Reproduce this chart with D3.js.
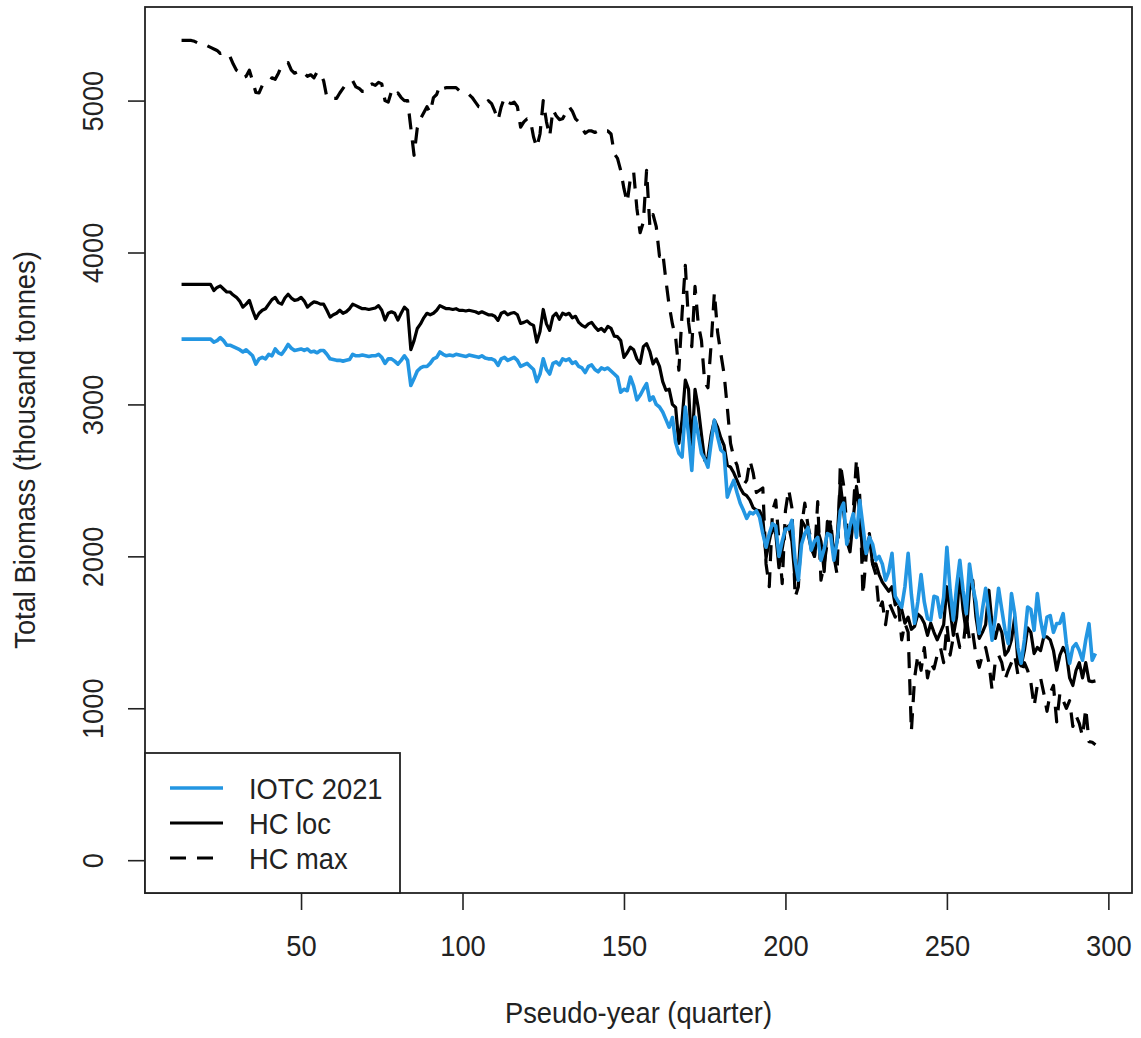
<!DOCTYPE html>
<html>
<head>
<meta charset="utf-8">
<script src="https://cdn.jsdelivr.net/npm/d3@7"></script>
<style>
  body { margin: 0; background: #fff; }
  text { font-family: "Liberation Sans", Arial, sans-serif; fill: #222; }
</style>
</head>
<body>
<div id="chart"></div>
<script>
// quarters 13..296
var startQuarter = 13;

var iotc2021 = [
  3430, 3430, 3430, 3430, 3430, 3430, 3430, 3430, 3430, 3430,
  3410, 3420, 3440, 3420, 3390, 3390, 3380, 3370, 3360, 3345,
  3360, 3340, 3320, 3265, 3300, 3310, 3300, 3330, 3320, 3365,
  3340, 3330, 3360, 3395, 3370, 3355, 3360, 3365, 3355, 3365,
  3345, 3350, 3340, 3355, 3355, 3330, 3300, 3295, 3290, 3290,
  3285, 3290, 3295, 3330, 3320, 3320, 3325, 3320, 3315, 3320,
  3320, 3330, 3310, 3270, 3300, 3300, 3285, 3265, 3290, 3320,
  3290, 3125, 3170, 3220, 3240, 3250, 3250, 3270, 3300, 3310,
  3345, 3330, 3320, 3325, 3320, 3330, 3325, 3320, 3315, 3325,
  3320, 3315, 3310, 3320, 3305, 3300, 3300, 3290, 3257, 3300,
  3310, 3290, 3300, 3310, 3290, 3250, 3260, 3270, 3250, 3230,
  3150, 3200, 3300, 3230, 3200, 3270, 3280, 3260, 3300, 3290,
  3300, 3270, 3280, 3250, 3240, 3210, 3250, 3260, 3230, 3215,
  3240, 3230, 3240, 3220, 3200, 3180, 3080, 3100, 3090, 3180,
  3120, 3030, 3060, 3100, 3137, 3027, 3050, 3000, 2983, 2950,
  2900, 2850, 2914, 2750, 2678, 2654, 2983, 2800, 2566, 2917,
  2800, 2678, 2640, 2587, 2750, 2896, 2786, 2700, 2680, 2390,
  2450, 2500, 2420, 2350, 2303, 2250, 2290, 2280, 2300, 2257,
  2150, 2060, 2150, 2215, 2200, 2000, 2100, 2180, 2180, 2237,
  1975, 1843, 2080, 2150, 2190, 2040, 2100, 2125, 1974, 2050,
  2150, 2140, 1974, 2100, 2300, 2350, 2080, 2200, 2280, 2125,
  2369, 2200, 2019, 2125, 2080, 1975, 2000, 1950, 1843, 1900,
  2020, 1737, 1700, 1665, 1800, 2020, 1750, 1560, 1700, 1880,
  1700, 1590, 1580, 1737, 1730, 1600, 1730, 2060, 1780, 1580,
  1800, 1974, 1777, 1623, 1950, 1800, 1700, 1493, 1650, 1790,
  1623, 1448, 1600, 1790, 1650, 1513, 1425, 1755, 1623, 1400,
  1296, 1450, 1667, 1650, 1513, 1755, 1580, 1470, 1600, 1610,
  1500, 1557, 1560, 1623, 1425, 1296, 1400, 1425, 1380, 1316,
  1450, 1557, 1316, 1360
];

var hcLoc = [
  3790, 3790, 3790, 3790, 3790, 3790, 3790, 3790, 3790, 3790,
  3750, 3770, 3780, 3760, 3740, 3740, 3720, 3705, 3680, 3640,
  3660, 3685, 3620, 3565, 3600, 3620, 3630, 3660, 3690, 3705,
  3670, 3660, 3700, 3725, 3700, 3685, 3690, 3705, 3680, 3640,
  3660, 3675, 3670, 3660, 3660, 3620, 3575, 3590, 3600, 3620,
  3600, 3610, 3630, 3660, 3650, 3640, 3630, 3630, 3625, 3630,
  3635, 3650, 3620, 3555, 3600, 3610, 3600, 3555, 3600, 3640,
  3620, 3360, 3420, 3500, 3530, 3570, 3600, 3590, 3600, 3620,
  3650, 3640, 3630, 3630, 3625, 3630, 3619, 3620, 3615, 3620,
  3615, 3610, 3600, 3610, 3600, 3590, 3590, 3580, 3553, 3600,
  3610, 3590, 3600, 3605, 3590, 3533, 3540, 3550, 3530, 3520,
  3410, 3480, 3625, 3530, 3487, 3580, 3600, 3560, 3600, 3590,
  3600, 3570, 3580, 3540, 3520, 3509, 3530, 3540, 3510, 3487,
  3500, 3480, 3513, 3500, 3450, 3446, 3420, 3310, 3340, 3377,
  3360, 3300, 3270, 3380, 3400, 3350, 3267, 3300, 3250, 3150,
  3093, 3100, 3000, 2980, 2744, 2900, 3160, 3100, 2700, 3100,
  2980, 2800, 2632, 2650, 2800, 2896, 2850, 2780, 2730, 2600,
  2587, 2550, 2500, 2450, 2413, 2400, 2370, 2320, 2305, 2300,
  2250, 1990, 2100, 2200, 2150, 1925, 2050, 2180, 2200, 2100,
  1843, 1900, 2237, 2200, 2150, 2050, 2000, 2170, 2100, 1900,
  2230, 2200, 2010, 2100, 2480, 2300, 2100, 2030, 2250, 2460,
  2300, 1974, 2050, 2130, 1950, 1950, 1880, 1830, 1800, 1770,
  1800, 1680, 1700, 1650, 1560, 1600, 1520, 1540, 1620, 1600,
  1560, 1480, 1560, 1500, 1450, 1500, 1550, 1800, 1650, 1480,
  1600, 1887, 1650, 1500, 1777, 1843, 1600, 1460, 1500, 1550,
  1777, 1550, 1460, 1550, 1500, 1350, 1380, 1450, 1600, 1300,
  1280, 1380, 1530, 1500, 1360, 1400, 1380, 1470, 1470, 1450,
  1380, 1250, 1350, 1400, 1360, 1200, 1150, 1250, 1300, 1200,
  1300, 1180, 1175, 1180
];

var hcMax = [
  5396, 5396, 5396, 5396, 5390, 5380, 5370, 5360, 5360, 5350,
  5340, 5330, 5310, 5320, 5310, 5290, 5240, 5200, 5185, 5150,
  5160, 5200, 5130, 5053, 5050, 5100, 5110, 5120, 5150, 5140,
  5180, 5230, 5240, 5250, 5200, 5180, 5190, 5170, 5180, 5160,
  5170, 5150, 5190, 5180, 5130, 5020, 5010, 5015, 5015, 5050,
  5080, 5110, 5120, 5130, 5090, 5080, 5060, 5060, 5100, 5110,
  5100, 5120, 5110, 5000, 4990, 5060, 5030, 5050, 5020, 5000,
  5000, 4820, 4640, 4820, 4880, 4920, 4960, 4920, 5020, 5040,
  5100, 5080, 5085, 5085, 5085, 5085, 5066, 5060, 5050, 5040,
  5020, 4990, 4960, 4955, 4980, 5000, 4980, 4930, 4870, 4960,
  5020, 4990, 4980, 4990, 4960, 4825, 4860, 4880, 4875, 4760,
  4690, 4780, 5000, 4860, 4765, 4940, 4900, 4875, 4880, 4920,
  4960, 4930, 4880, 4860, 4820, 4785, 4800, 4800, 4790, 4800,
  4790, 4800, 4800, 4780, 4650, 4620, 4540, 4420, 4330, 4490,
  4530, 4290, 4130, 4200, 4540, 4180, 4250, 4170, 3975, 4000,
  3815, 3650, 3530, 3440, 3225, 3600, 3915, 3540, 3380, 3777,
  3530, 3420, 3145, 3110, 3400, 3737, 3475, 3335, 3200, 2980,
  2744, 2650, 2600, 2500, 2470, 2500, 2632, 2550, 2420, 2435,
  2450, 1950, 1800, 2300, 2370, 2100, 1820, 2300, 2440, 2320,
  1730, 1800, 2200, 2350, 2200, 2100, 2000, 2360, 1843, 1950,
  2100, 2240, 2000, 1880, 2610, 2470, 2200, 2100, 2300, 2640,
  2400, 1745, 2000, 2150, 1950, 1880, 1650, 1700, 1550, 1700,
  1650, 1600, 1680, 1450, 1560, 1500, 850, 1200, 1350, 1250,
  1400, 1200, 1300, 1260, 1350, 1400, 1300, 1550, 1350, 1470,
  1500, 1400, 1400, 1600, 1450, 1500, 1350, 1270, 1350, 1400,
  1300, 1120, 1310, 1350, 1300, 1190, 1250, 1300, 1350, 1220,
  1220, 1300, 1250, 1170, 1013, 1150, 1200, 1100, 980, 1100,
  1150, 910, 1100, 1050, 1000, 1050, 880, 950, 900, 815,
  1000, 780, 776, 760
];

var xTicks = [50, 100, 150, 200, 250, 300];
var yTicks = [0, 1000, 2000, 3000, 4000, 5000];
var legendLabels = ["IOTC 2021", "HC loc", "HC max"];

var svgWidth = 1141;
var svgHeight = 1038;

var margin = {
  top: 7,
  right: 9,
  bottom: 145,
  left: 145
};

var width = svgWidth - margin.left - margin.right;
var height = svgHeight - margin.top - margin.bottom;

var svg = d3.select("#chart")
  .append("svg")
  .attr("width", svgWidth)
  .attr("height", svgHeight);

var chartGroup = svg.append("g")
  .attr("transform", `translate(${margin.left}, ${margin.top})`);

// R style axis extension (4% each side)
var xLinearScale = d3.scaleLinear()
  .domain([1.68, 307.32])
  .range([0, width]);

var yLinearScale = d3.scaleLinear()
  .domain([-216, 5616])
  .range([height, 0]);

function toPoints(arr) {
  return arr.map(function(v, i) { return { q: startQuarter + i, v: v }; });
}

var line = d3.line()
  .x(d => xLinearScale(d.q))
  .y(d => yLinearScale(d.v));

var series = [
  { name: legendLabels[2], data: toPoints(hcMax), color: "#000", dash: "16,11", w: 3.2 },
  { name: legendLabels[1], data: toPoints(hcLoc), color: "#000", dash: null, w: 3.2 },
  { name: legendLabels[0], data: toPoints(iotc2021), color: "#2396e2", dash: null, w: 3.6 }
];

series.forEach(function(s) {
  chartGroup.append("path")
    .datum(s.data)
    .attr("fill", "none")
    .attr("stroke", s.color)
    .attr("stroke-width", s.w)
    .attr("stroke-dasharray", s.dash)
    .attr("stroke-linejoin", "round")
    .attr("d", line);
});

// axes
var xAxis = d3.axisBottom(xLinearScale).tickValues(xTicks).tickSize(17).tickPadding(25);
var yAxis = d3.axisLeft(yLinearScale).tickValues(yTicks).tickSize(17).tickFormat(d3.format("d"));

var xg = chartGroup.append("g")
  .attr("transform", `translate(0, ${height})`)
  .call(xAxis);
xg.select(".domain").remove();
xg.selectAll("line").attr("stroke", "#222").attr("stroke-width", 1.6);
xg.selectAll("text")
  .attr("font-size", 30)
  .attr("fill", "#222")
  .attr("transform", "scale(0.91,1)");

var yg = chartGroup.append("g").call(yAxis);
yg.select(".domain").remove();
yg.selectAll("line").attr("stroke", "#222").attr("stroke-width", 1.6);
yg.selectAll("text")
  .attr("x", 0)
  .attr("dy", 0)
  .attr("font-size", 30)
  .attr("fill", "#222")
  .attr("text-anchor", "middle")
  .attr("transform", "translate(-42,0) rotate(-90) scale(0.91,1)");

// plot box
chartGroup.append("rect")
  .attr("width", width)
  .attr("height", height)
  .attr("fill", "none")
  .attr("stroke", "#222")
  .attr("stroke-width", 1.8);

// axis titles
svg.append("text")
  .attr("transform", `translate(${margin.left + width / 2}, 1023) scale(0.91,1)`)
  .attr("text-anchor", "middle")
  .attr("font-size", 30)
  .text("Pseudo-year (quarter)");

svg.append("text")
  .attr("transform", `translate(35, ${margin.top + height / 2}) rotate(-90) scale(0.91,1)`)
  .attr("text-anchor", "middle")
  .attr("font-size", 30)
  .text("Total Biomass (thousand tonnes)");

// legend
var legend = chartGroup.append("g");
var legendTop = 753 - margin.top;
legend.append("rect")
  .attr("x", 0)
  .attr("y", legendTop)
  .attr("width", 400 - margin.left)
  .attr("height", height - legendTop)
  .attr("fill", "#fff")
  .attr("stroke", "#222")
  .attr("stroke-width", 1.8);

var legendItems = [series[2], series[1], series[0]];
legendItems.forEach(function(s, i) {
  var yy = 788 - margin.top + i * 35;
  legend.append("line")
    .attr("x1", 170 - margin.left)
    .attr("x2", 223 - margin.left)
    .attr("y1", yy)
    .attr("y2", yy)
    .attr("stroke", s.color)
    .attr("stroke-width", s.w)
    .attr("stroke-dasharray", s.dash);
  legend.append("text")
    .attr("transform", `translate(${249 - margin.left}, ${yy + 11}) scale(0.91,1)`)
    .attr("font-size", 30)
    .text(s.name);
});
</script>
</body>
</html>
